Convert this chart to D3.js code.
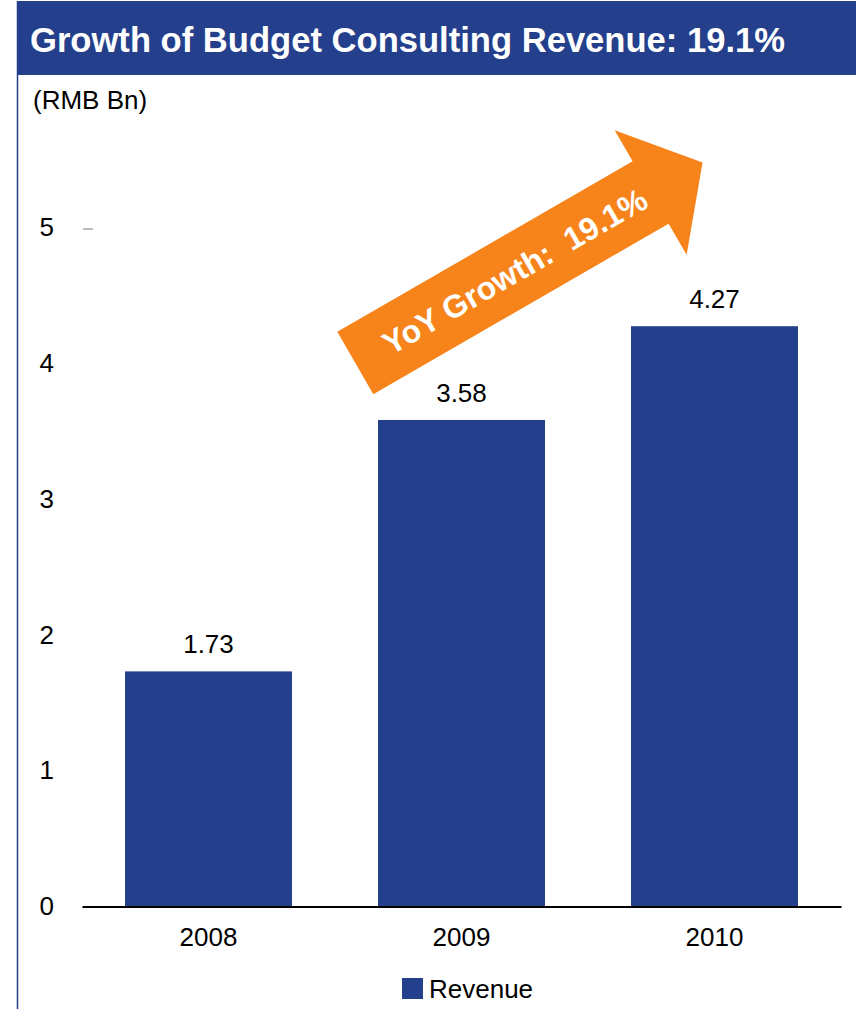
<!DOCTYPE html>
<html>
<head>
<meta charset="utf-8">
<script src="https://cdn.jsdelivr.net/npm/d3@7"></script>
<style>
  html, body { margin: 0; padding: 0; background: #ffffff; }
  svg { display: block; }
  text { font-family: "Liberation Sans", Arial, sans-serif; }
</style>
</head>
<body>
<svg id="chart" width="856" height="1009"></svg>
<script>
// ---- data ----
const titleText = "Growth of Budget Consulting Revenue: 19.1%";
const unitLabel = "(RMB Bn)";
const categories = ["2008", "2009", "2010"];
const revenue = [1.73, 3.58, 4.27];
const yTicks = [0, 1, 2, 3, 4, 5];
const seriesName = "Revenue";
const growthLabel = "YoY Growth:  19.1%";

// ---- styles ----
const navy = "#243f8b";
const orange = "#f6841a";

const svg = d3.select("#chart");

// frame: title bar + left border
svg.append("rect").attr("x", 17).attr("y", 1).attr("width", 839).attr("height", 74).attr("fill", navy);
svg.append("line").attr("x1", 17.5).attr("x2", 17.5).attr("y1", 1).attr("y2", 1009)
  .attr("stroke", navy).attr("stroke-width", 1.5);

svg.append("text").attr("x", 30).attr("y", 52)
  .attr("fill", "#ffffff").attr("font-size", 34.7).attr("font-weight", "bold")
  .attr("textLength", 755).attr("lengthAdjust", "spacingAndGlyphs")
  .text(titleText);

svg.append("text").attr("x", 33).attr("y", 109)
  .attr("fill", "#000").attr("font-size", 26)
  .text(unitLabel);

// scales
const x = d3.scaleBand().domain(categories).range([82, 841]).paddingInner(0.34).paddingOuter(0.17);
const y = d3.scaleLinear().domain([0, 5]).range([906.5, 227]);

// y axis (labels only)
const yAxis = svg.append("g").attr("transform", "translate(82,0)")
  .call(d3.axisLeft(y).tickValues(yTicks).tickSize(0).tickPadding(28).tickFormat(d3.format("d")));
yAxis.select(".domain").remove();
yAxis.selectAll("text").attr("font-size", 26).attr("fill", "#000")
  .attr("font-family", "'Liberation Sans', Arial, sans-serif");

// small tick dash at top value
svg.append("line").attr("x1", 83).attr("x2", 93)
  .attr("y1", y(yTicks[yTicks.length - 1]) + 2).attr("y2", y(yTicks[yTicks.length - 1]) + 2)
  .attr("stroke", "#bdbdbd").attr("stroke-width", 2);

// bars
const data = categories.map((c, i) => ({ c, v: revenue[i] }));
svg.append("g").selectAll("rect").data(data).join("rect")
  .attr("x", d => x(d.c)).attr("width", x.bandwidth())
  .attr("y", d => y(d.v)).attr("height", d => y(0) - y(d.v))
  .attr("fill", navy);

// value labels
svg.append("g").selectAll("text").data(data).join("text")
  .attr("x", d => x(d.c) + x.bandwidth() / 2)
  .attr("y", d => y(d.v) - 18)
  .attr("text-anchor", "middle").attr("font-size", 26).attr("fill", "#000")
  .text(d => d.v.toFixed(2));

// x axis
const xAxis = svg.append("g").attr("transform", `translate(0,${y(0)})`)
  .call(d3.axisBottom(x).tickSize(0).tickSizeOuter(0).tickPadding(21));
xAxis.select(".domain").attr("stroke", "#000").attr("stroke-width", 2);
xAxis.selectAll("text").attr("font-size", 26).attr("fill", "#000")
  .attr("font-family", "'Liberation Sans', Arial, sans-serif");

// growth arrow annotation
const arrow = svg.append("g").attr("transform", "translate(355.3,363) rotate(-30)");
const arrowPts = [[0, -36], [341, -36], [341, -72], [401, 0], [341, 72], [341, 36], [0, 36]];
arrow.append("path").attr("d", d3.line()(arrowPts) + "Z").attr("fill", orange);
arrow.append("text").attr("x", 184).attr("y", 0).attr("dy", "0.36em")
  .attr("text-anchor", "middle").attr("font-size", 32).attr("font-weight", "bold")
  .attr("fill", "#fff").style("white-space", "pre")
  .text(growthLabel);

// legend
const legend = svg.append("g").attr("transform", "translate(402,978)");
legend.append("rect").attr("width", 21).attr("height", 21).attr("fill", navy);
legend.append("text").attr("x", 27).attr("y", 20).attr("font-size", 26).attr("fill", "#000")
  .text(seriesName);
</script>
</body>
</html>
